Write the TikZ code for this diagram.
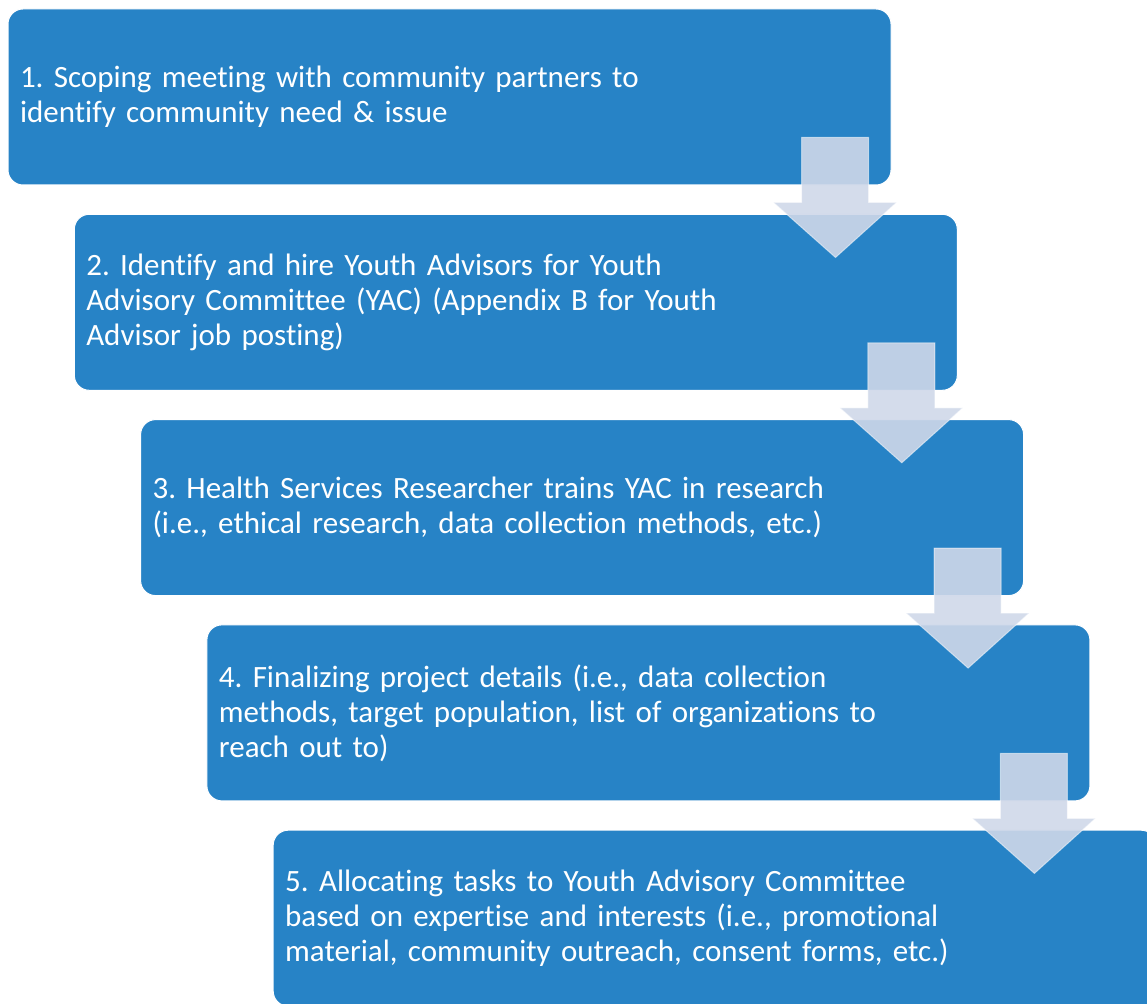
\documentclass[tikz,border=0pt]{standalone}
\usepackage{fontspec}
\setmainfont{Carlito}[Ligatures=NoCommon]
\usepackage{xcolor}
\usepackage{tikz}
\frenchspacing
\definecolor{stageblue}{RGB}{39,131,198}
\definecolor{arrowfill}{RGB}{207,216,233}
\tikzset{stagebox/.style={draw=white, line width=0.5pt, fill=stageblue,
                          rounded corners=7.5pt, text=white, align=left,
                          text width=429.5pt, inner xsep=6pt,
                          minimum height=88pt,
                          font=\fontsize{15.5}{17.5}\selectfont}}
\tikzset{downarrow/.style={fill=arrowfill, fill opacity=0.9,
                           draw=white, draw opacity=0.5, line width=0.5pt}}

\begin{document}
\begin{tikzpicture}[x=0.5pt, y=-0.5pt]
    \useasboundingbox (0,0) rectangle (1147,1004);

    \node[stagebox](stage1) at (449.5,97) {1. Scoping meeting with community partners to\\identify community need \& issue};
    \node[stagebox](stage2) at (515.8,302.3) {2. Identify and hire Youth Advisors for Youth\\Advisory Committee (YAC) (Appendix B for Youth\\Advisor job posting)};
    \node[stagebox](stage3) at (582.1,507.6) {3. Health Services Researcher trains YAC in research\\(i.e., ethical research, data collection methods, etc.)};
    \node[stagebox](stage4) at (648.4,712.9) {4. Finalizing project details (i.e., data collection\\methods, target population, list of organizations to\\reach out to)};
    \node[stagebox](stage5) at (714.7,918.2) {5. Allocating tasks to Youth Advisory Committee\\based on expertise and interests (i.e., promotional\\material, community outreach, consent forms, etc.)};

    % block arrows hanging off the lower right corner of each stage
    \draw[downarrow] ([shift={(-90,-48)}]stage1.south east) -- ++(67,0) -- ++(0,65) -- ++(28,0)
      -- ++(-61,55) -- ++(-62,-55) -- ++(28,0) -- cycle;
    \draw[downarrow] ([shift={(-90,-48)}]stage2.south east) -- ++(67,0) -- ++(0,65) -- ++(28,0)
      -- ++(-61,55) -- ++(-62,-55) -- ++(28,0) -- cycle;
    \draw[downarrow] ([shift={(-90,-48)}]stage3.south east) -- ++(67,0) -- ++(0,65) -- ++(28,0)
      -- ++(-61,55) -- ++(-62,-55) -- ++(28,0) -- cycle;
    \draw[downarrow] ([shift={(-90,-48)}]stage4.south east) -- ++(67,0) -- ++(0,65) -- ++(28,0)
      -- ++(-61,55) -- ++(-62,-55) -- ++(28,0) -- cycle;
\end{tikzpicture}
\end{document}
